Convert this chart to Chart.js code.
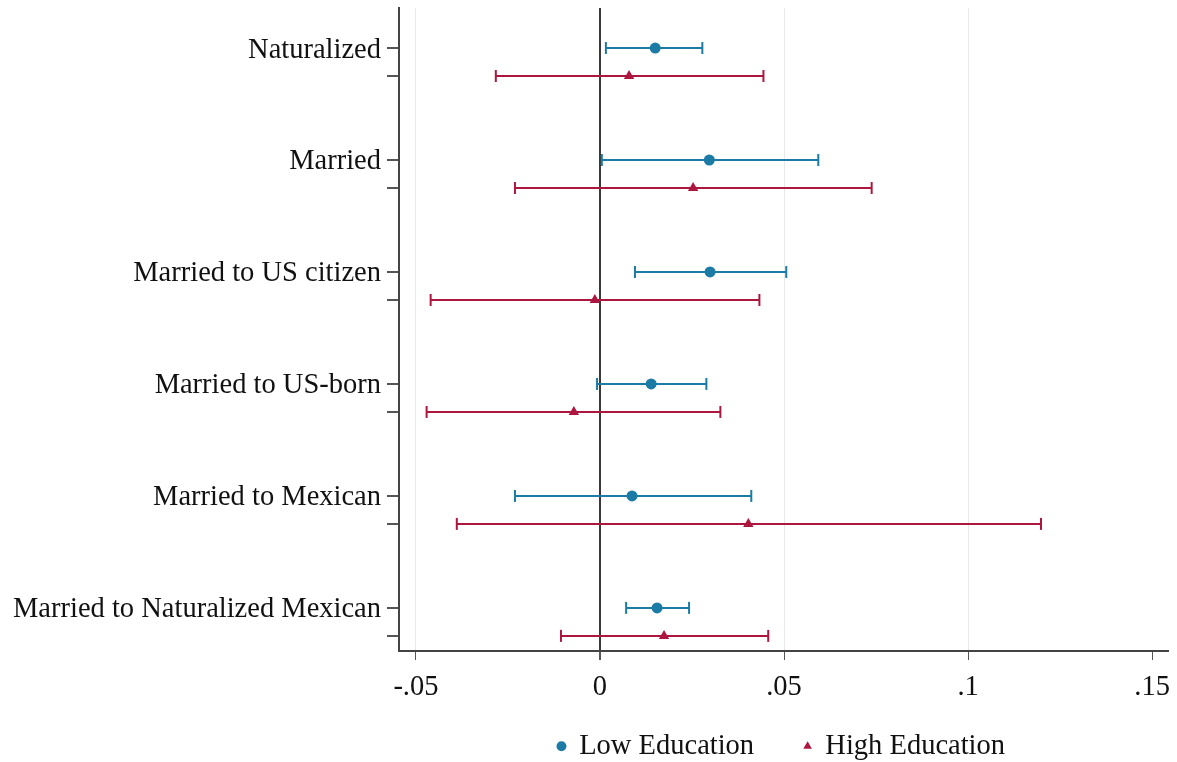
<!DOCTYPE html>
<html>
<head>
<meta charset="utf-8">
<script src="https://cdn.jsdelivr.net/npm/chart.js@4"></script>
<style>
  html, body { margin: 0; padding: 0; background: #fff; }
  #wrap { width: 1177px; height: 762px; }
</style>
</head>
<body>
<div id="wrap"><canvas id="chart" width="1177" height="762"></canvas></div>
<script>
// Categories (top to bottom)
const categories = ['Naturalized', 'Married', 'Married to US citizen', 'Married to US-born',
  'Married to Mexican', 'Married to Naturalized Mexican'];

// Low education: estimate and 95% CI
const lowEst = [0.0150, 0.0297, 0.0299, 0.0139, 0.0087, 0.0155];
const lowLo  = [0.0016, 0.0005, 0.0095, -0.0008, -0.0231, 0.0071];
const lowHi  = [0.0278, 0.0593, 0.0506, 0.0289, 0.0411, 0.0242];

// High education: estimate and 95% CI
const highEst = [0.0079, 0.0253, -0.0014, -0.0071, 0.0403, 0.0174];
const highLo  = [-0.0283, -0.0231, -0.0460, -0.0471, -0.0389, -0.0106];
const highHi  = [0.0444, 0.0738, 0.0433, 0.0327, 0.1198, 0.0457];

// X axis ticks
const xTicks = [-0.05, 0, 0.05, 0.1, 0.15];
const xTickLabels = ['-.05', '0', '.05', '.1', '.15'];

const blue = '#1b7ba4';
const red = '#ad173f';
const font = 'Liberation Serif, Times New Roman, serif';

// each category gets two rows: low on row 4*i, high on row 4*i+1
const lowRow = i => i * 4;
const highRow = i => i * 4 + 1;

const datasets = [];

function ciDataset(lo, hi, y, color) {
  return {
    label: '_ci',
    data: [{ x: lo, y: y }, { x: hi, y: y }],
    showLine: true,
    borderColor: color,
    borderWidth: 2,
    pointStyle: 'line',
    rotation: 90,
    pointRadius: 6,
    pointBorderColor: color,
    pointBorderWidth: 2,
    pointHoverRadius: 6,
    order: 2
  };
}

categories.forEach((c, i) => {
  datasets.push(ciDataset(lowLo[i], lowHi[i], lowRow(i), blue));
  datasets.push(ciDataset(highLo[i], highHi[i], highRow(i), red));
});

datasets.push({
  label: 'Low Education',
  data: lowEst.map((v, i) => ({ x: v, y: lowRow(i) })),
  pointStyle: 'circle',
  pointRadius: 5.5,
  backgroundColor: blue,
  borderColor: blue,
  borderWidth: 0,
  order: 0
});
datasets.push({
  label: 'High Education',
  data: highEst.map((v, i) => ({ x: v, y: highRow(i) })),
  pointStyle: 'triangle',
  pointRadius: 6,
  backgroundColor: red,
  borderColor: red,
  borderWidth: 0,
  order: 0
});

const yTickVals = [];
categories.forEach((c, i) => { yTickVals.push(lowRow(i), highRow(i)); });

// keep the legend compact in the layout, then put it where the reference has it
const legendPlace = {
  id: 'legendPlace',
  afterInit(chart) {
    const lg = chart.legend;
    const fit = lg.fit.bind(lg);
    lg.fit = function () { fit(); this.height = 51; };
  },
  afterLayout(chart) {
    const lg = chart.legend;
    lg.top = 682;
    lg.bottom = chart.height;
    lg.height = lg.bottom - lg.top;
    lg.left -= 2;
    lg.right -= 2;
  }
};

new Chart(document.getElementById('chart'), {
  type: 'scatter',
  data: { datasets: datasets },
  plugins: [legendPlace],
  options: {
    responsive: false,
    animation: false,
    layout: { padding: { top: 8, right: 9, left: 0, bottom: 0 } },
    plugins: {
      tooltip: { enabled: false },
      legend: {
        position: 'bottom',
        fullSize: false,
        labels: {
          filter: item => item.text !== '_ci',
          usePointStyle: true,
          boxWidth: 7,
          boxHeight: 7,
          padding: 50,
          color: '#111',
          font: { family: font, size: 28.5 }
        }
      }
    },
    scales: {
      x: {
        type: 'linear',
        min: -0.0546,
        max: 0.1543,
        afterBuildTicks: s => { s.ticks = xTicks.map(v => ({ value: v })); },
        afterFit: s => { s.height = 60; s.paddingLeft = 0; s.paddingRight = 0; },
        ticks: {
          callback: (v, i) => xTickLabels[i],
          color: '#111',
          padding: 10,
          maxRotation: 0,
          font: { family: font, size: 28.5 }
        },
        grid: {
          color: ctx => {
            if (!ctx.tick) return '#e9e9e9';
            if (ctx.tick.value === 0) return '#3a3a3a';
            if (ctx.tick.value === 0.15) return 'rgba(0,0,0,0)';
            return '#e9e9e9';
          },
          lineWidth: ctx => (ctx.tick && ctx.tick.value === 0 ? 2 : 1),
          tickColor: '#555',
          tickLength: 9
        },
        border: { color: '#444', width: 2 }
      },
      y: {
        type: 'linear',
        reverse: true,
        min: -1.43,
        max: 21.54,
        afterBuildTicks: s => { s.ticks = yTickVals.map(v => ({ value: v })); },
        afterFit: s => { s.width = 399; s.paddingTop = 0; s.paddingBottom = 0; },
        ticks: {
          callback: v => (v % 4 === 0 ? categories[v / 4] : ''),
          color: '#111',
          padding: 6,
          labelOffset: 2,
          autoSkip: false,
          font: { family: font, size: 28.5 }
        },
        grid: {
          drawOnChartArea: false,
          tickColor: '#555',
          tickLength: 12,
          lineWidth: 2
        },
        border: { color: '#444', width: 2 }
      }
    }
  }
});
</script>
</body>
</html>
